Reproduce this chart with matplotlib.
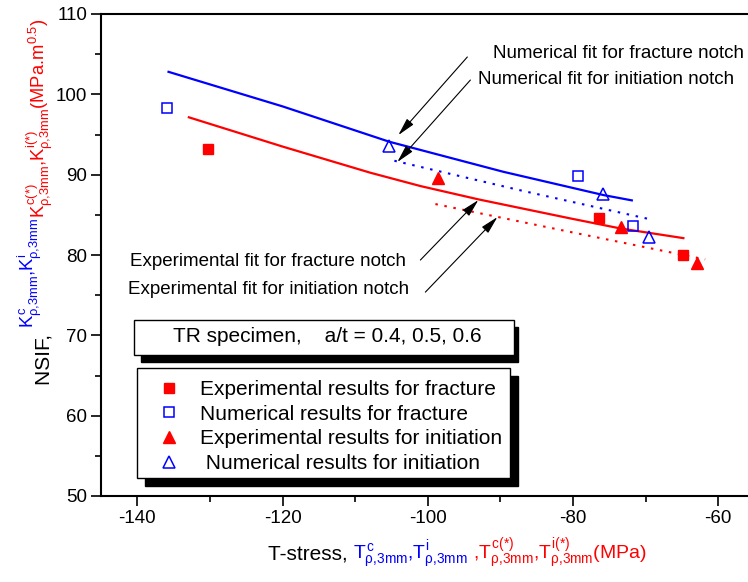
import matplotlib.pyplot as plt
from matplotlib.patches import Rectangle
from matplotlib.ticker import MultipleLocator

plt.rcParams['font.family'] = 'Liberation Sans'
plt.rcParams['mathtext.fontset'] = 'custom'
plt.rcParams['mathtext.rm'] = 'Liberation Sans'
plt.rcParams['mathtext.it'] = 'Liberation Sans'
plt.rcParams['mathtext.bf'] = 'Liberation Sans:bold'
plt.rcParams['axes.unicode_minus'] = False

W, H = 748, 582
RED = '#ff0000'
BLUE = '#0000ff'

# measured points
exp_frac_x = [-130.2, -76.4, -64.8]
exp_frac_y = [93.2, 84.6, 80.0]
num_frac_x = [-135.9, -79.3, -71.8]
num_frac_y = [98.3, 89.8, 83.6]
exp_init_x = [-98.6, -73.4, -62.9]
exp_init_y = [89.55, 83.45, 78.97]
num_init_x = [-105.3, -75.8, -69.5]
num_init_y = [93.57, 87.55, 82.3]

# fitted curves
num_fit_frac_x = [-135.7, -120.0, -105.3, -89.6, -75.8, -71.9]
num_fit_frac_y = [102.8, 98.5, 94.1, 90.36, 87.46, 86.8]
exp_fit_frac_x = [-132.9, -120.0, -107.9, -101.0, -93.0, -80.4, -73.5, -64.8]
exp_fit_frac_y = [97.14, 93.5, 90.24, 88.58, 86.92, 84.56, 83.31, 82.1]
num_fit_init_x = [-104.6, -87.0, -69.3]
num_fit_init_y = [91.73, 88.0, 84.43]
exp_fit_init_x = [-98.95, -80.0, -61.8]
exp_fit_init_y = [86.34, 82.8, 79.45]

legend_labels = ['Experimental results for fracture',
                 'Numerical results for fracture',
                 'Experimental results for initiation',
                 ' Numerical results for initiation']


def fx(px):
    return px / W


def fy(py):
    return 1 - py / H


fig = plt.figure(figsize=(W / 100, H / 100), dpi=100)
ax = fig.add_axes([fx(101), fy(496), 1 - fx(101), (496 - 14) / H])

ax.plot(num_fit_frac_x, num_fit_frac_y, color=BLUE, lw=1.6)
ax.plot(exp_fit_frac_x, exp_fit_frac_y, color=RED, lw=1.6)
ax.plot(num_fit_init_x, num_fit_init_y, color=BLUE, lw=1.5, ls=(0, (1.2, 3.2)))
ax.plot(exp_fit_init_x, exp_fit_init_y, color=RED, lw=1.5, ls=(0, (1.2, 3.2)))

h1, = ax.plot(exp_frac_x, exp_frac_y, ls='none', marker='s', ms=6.5, color=RED)
h2, = ax.plot(num_frac_x, num_frac_y, ls='none', marker='s', ms=6.5,
              mfc='none', mec=BLUE, mew=1.1)
h3, = ax.plot(exp_init_x, exp_init_y, ls='none', marker='^', ms=8.8, color=RED)
h4, = ax.plot(num_init_x, num_init_y, ls='none', marker='^', ms=8.8,
              mfc='none', mec=BLUE, mew=1.1)

ax.set_xlim(-145, -55.9)
ax.set_ylim(50, 110)
ax.xaxis.set_major_locator(MultipleLocator(20))
ax.xaxis.set_minor_locator(MultipleLocator(10))
ax.yaxis.set_major_locator(MultipleLocator(10))
ax.yaxis.set_minor_locator(MultipleLocator(5))
ax.tick_params(which='major', direction='out', length=7, width=1.2, labelsize=13.5, pad=3)
ax.tick_params(which='minor', direction='out', length=4, width=1.2)
ax.spines['right'].set_visible(False)
for s in ['left', 'bottom', 'top']:
    ax.spines[s].set_linewidth(1.5)

# arrows
arrows = [((-94.55, 104.65), (-104.05, 94.93)),
          ((-94.13, 101.78), (-104.19, 91.57)),
          ((-101.02, 79.37), (-93.03, 86.84)),
          ((-100.33, 75.38), (-90.41, 84.72))]
for tail, tip in arrows:
    ax.annotate('', xy=tip, xytext=tail,
                arrowprops=dict(arrowstyle='-|>,head_length=0.9,head_width=0.22',
                                color='k', lw=0.8, shrinkA=0, shrinkB=0,
                                mutation_scale=12))

fig.text(fx(493), fy(53), 'Numerical fit for fracture notch', fontsize=13.5, va='center')
fig.text(fx(478), fy(80), 'Numerical fit for initiation notch', fontsize=13.5, va='center')
fig.text(fx(130), fy(262), 'Experimental fit for fracture notch', fontsize=13.5, va='center')
fig.text(fx(128), fy(289), 'Experimental fit for initiation notch', fontsize=13.5, va='center')

# TR specimen box with shadow
fig.patches.append(Rectangle((fx(141), fy(362)), (518 - 141) / W, (362 - 327) / H,
                             transform=fig.transFigure, color='k', zorder=5))
fig.patches.append(Rectangle((fx(134), fy(355)), (514 - 134) / W, (355 - 320) / H,
                             transform=fig.transFigure, fc='white', ec='k', lw=1.0,
                             zorder=5.5))
fig.text(fx(327), fy(337), 'TR specimen,    a/t = 0.4, 0.5, 0.6', fontsize=15,
         ha='center', va='center', zorder=6)

# legend box with shadow
fig.patches.append(Rectangle((fx(145), fy(486)), (518 - 145) / W, (486 - 376) / H,
                             transform=fig.transFigure, color='k', zorder=5))
fig.patches.append(Rectangle((fx(137), fy(478)), (510 - 137) / W, (478 - 368) / H,
                             transform=fig.transFigure, fc='white', ec='k', lw=1.0,
                             zorder=5.5))
leg = fig.legend([h1, h2, h3, h4], legend_labels, loc='upper left',
                 bbox_to_anchor=(fx(158.6), fy(380)), frameon=False, fontsize=15,
                 handlelength=1.0, handletextpad=1.0, labelspacing=0.27,
                 borderpad=0, borderaxespad=0)
leg.set_zorder(7)

# axis labels built from colored pieces
fig.canvas.draw()
rend = fig.canvas.get_renderer()

xpieces = [('T-stress, ', 'k', 15, 0),
           (r'$T^{c}_{ρ{,}3mm}$,$T^{i}_{ρ{,}3mm}$', BLUE, 14, 0),
           (r' ,$T^{c(*)}_{ρ{,}3mm}$,$T^{i(*)}_{ρ{,}3mm}$(MPa)', RED, 14, 0)]
x0 = 268
for s, c, fs, dy in xpieces:
    t = fig.text(fx(x0), fy(559 + dy), s, color=c, fontsize=fs, ha='left', va='baseline')
    bb = t.get_window_extent(rend)
    x0 = bb.x1

ypieces = [('NSIF, ', 'k', 15, 0),
           (r'$K^{c}_{ρ{,}3mm}$,$K^{i}_{ρ{,}3mm}$', BLUE, 13.2, -16),
           (r'$K^{c(*)}_{ρ{,}3mm}$,$K^{i(*)}_{ρ{,}3mm}$(MPa.m$^{0.5}$)', RED, 13.2, -5)]
y0 = H - 385
for s, c, fs, dx in ypieces:
    t = fig.text(fx(50 + dx), y0 / H, s, color=c, fontsize=fs, rotation=90,
                 rotation_mode='anchor', ha='left', va='baseline')
    bb = t.get_window_extent(rend)
    y0 = bb.y1

fig.savefig('out.png', dpi=100)
